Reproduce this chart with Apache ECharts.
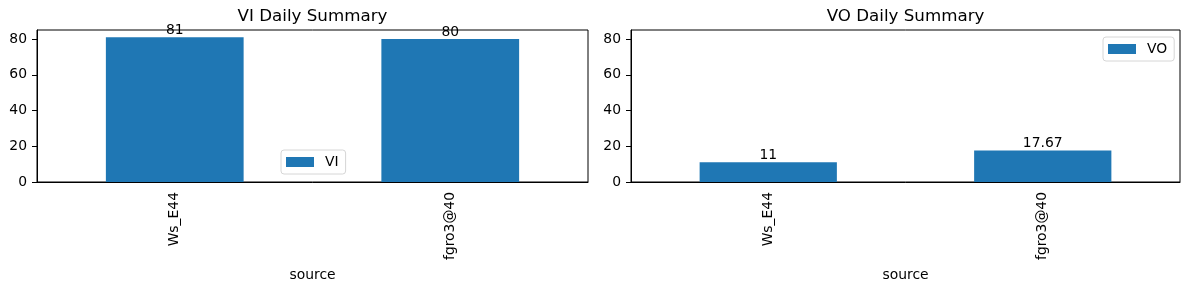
<!DOCTYPE html>
<html>
<head>
<meta charset="utf-8">
<script src="https://cdn.jsdelivr.net/npm/echarts@6/dist/echarts.min.js"></script>
<style>
html,body{margin:0;padding:0;background:#fff;}
#chart{width:1189px;height:290px;}
</style>
</head>
<body>
<div id="chart"></div>
<script>
const sources = ['Ws_E44', 'fgro3@40'];
const viValues = [81, 80];
const voValues = [11, 17.67];
const titles = ['VI Daily Summary', 'VO Daily Summary'];
const seriesNames = ['VI', 'VO'];
const xAxisName = 'source';

const FONT = 'DejaVu Sans';
const FS = 13.9;
const COLOR = '#1f77b4';
const yMax = Math.max(...viValues, ...voValues) * 1.05;

const grids = [
  {left: 37, top: 30, width: 551, height: 152},
  {left: 631, top: 30, width: 549, height: 152}
];

function xAxis(i) {
  return {
    type: 'category', gridIndex: i, data: sources,
    boundaryGap: true,
    axisLine: {lineStyle: {color: '#000', width: 1}},
    axisTick: {alignWithLabel: true, length: 5, lineStyle: {color: '#000'}},
    axisLabel: {rotate: 90, margin: 10, color: '#000', fontFamily: FONT, fontSize: FS},
    name: xAxisName, nameLocation: 'middle', nameGap: 78,
    nameTextStyle: {color: '#000', fontFamily: FONT, fontSize: FS},
    splitLine: {show: false}
  };
}
function yAxis(i) {
  return {
    type: 'value', gridIndex: i, min: 0, max: yMax, interval: 20,
    axisLine: {show: true, lineStyle: {color: '#000', width: 1}},
    axisTick: {show: true, length: 5, lineStyle: {color: '#000'}},
    axisLabel: {margin: 10, color: '#000', fontFamily: FONT, fontSize: FS, showMaxLabel: false},
    splitLine: {show: false}
  };
}
function legend(i, left, top) {
  return {
    data: [{name: seriesNames[i], icon: 'rect'}],
    left: left, top: top, orient: 'vertical',
    itemWidth: 28, itemHeight: 10,
    padding: [5, 7, 5, 5],
    borderColor: '#d6d6d6', borderWidth: 1, borderRadius: 3,
    backgroundColor: '#fff',
    textStyle: {color: '#000', fontFamily: FONT, fontSize: FS, padding: [0, 0, 0, 6]},
    selectedMode: false
  };
}
function series(i, values) {
  return {
    name: seriesNames[i], type: 'bar', xAxisIndex: i, yAxisIndex: i,
    data: values, barWidth: '50%',
    itemStyle: {color: COLOR},
    label: {show: true, position: 'top', distance: 0, color: '#000', fontFamily: FONT, fontSize: FS,
      formatter: p => String(p.value)},
    silent: true
  };
}

const chart = echarts.init(document.getElementById('chart'), null, {renderer: 'canvas'});
chart.setOption({
  animation: false,
  backgroundColor: '#fff',
  title: [
    {text: titles[0], left: 312.5, top: 8, padding: 0, textAlign: 'center',
     textStyle: {color: '#000', fontFamily: FONT, fontSize: 16.7, fontWeight: 'normal'}},
    {text: titles[1], left: 905.5, top: 8, padding: 0, textAlign: 'center',
     textStyle: {color: '#000', fontFamily: FONT, fontSize: 16.7, fontWeight: 'normal'}}
  ],
  legend: [legend(0, 281, 150), legend(1, 1103, 37)],
  grid: grids.map(g => Object.assign({show: true, borderColor: '#000', borderWidth: 1, backgroundColor: 'transparent'}, g)),
  xAxis: [xAxis(0), xAxis(1)],
  yAxis: [yAxis(0), yAxis(1)],
  series: [series(0, viValues), series(1, voValues)]
});
</script>
</body>
</html>
